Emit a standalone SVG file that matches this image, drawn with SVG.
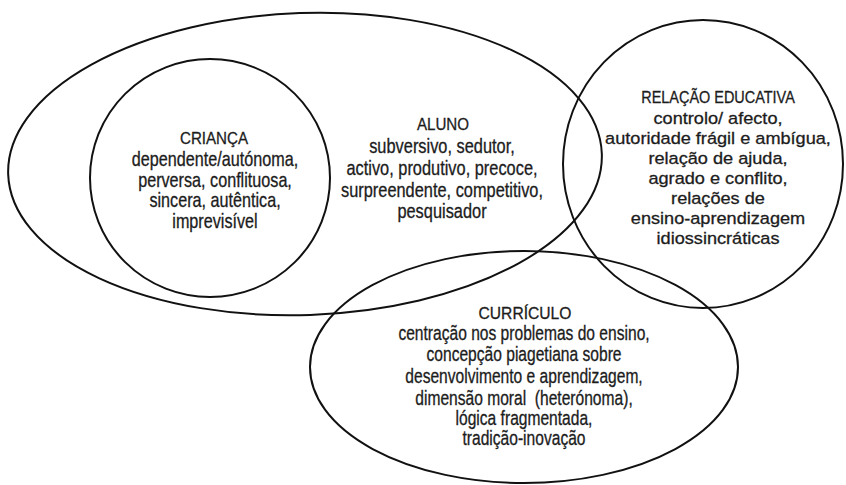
<svg xmlns="http://www.w3.org/2000/svg" width="846" height="485" viewBox="0 0 846 485">
<style>
.shape{fill:none;stroke:#111;stroke-width:2}
text{font-family:"Liberation Sans",Arial,sans-serif;fill:#1c1c1c;stroke:#1c1c1c;stroke-width:0.3;text-anchor:middle}
.h{font-size:17px}
.b{font-size:19.5px}
.r{font-size:16.5px}
</style>
<rect width="846" height="485" fill="#fff"/>
<g id="aluno">
<ellipse class="shape" cx="305" cy="164" rx="297" ry="151" transform="rotate(-2 305 164)"/>
<g transform="translate(443,0) scale(0.89,1)"><text class="h" x="0" y="130">ALUNO</text></g>
<g transform="translate(442,0) scale(0.84,1)">
<text class="b" x="0" y="153">subversivo, sedutor,</text>
<text class="b" x="0" y="175">activo, produtivo, precoce,</text>
<text class="b" x="0" y="197">surpreendente, competitivo,</text>
<text class="b" x="0" y="218">pesquisador</text>
</g>
</g>
<g id="crianca">
<ellipse class="shape" cx="210" cy="178" rx="120" ry="119"/>
<g transform="translate(214,0) scale(0.89,1)"><text class="h" x="0" y="144">CRIANÇA</text></g>
<g transform="translate(215,0) scale(0.83,1)">
<text class="b" x="0" y="166">dependente/autónoma,</text>
<text class="b" x="0" y="187">perversa, conflituosa,</text>
<text class="b" x="0" y="207">sincera, autêntica,</text>
<text class="b" x="0" y="228">imprevisível</text>
</g>
</g>
<g id="relacao">
<ellipse class="shape" cx="703" cy="164" rx="140" ry="144"/>
<g transform="translate(718,0) scale(0.85,1)"><text class="h" x="0" y="103">RELAÇÃO EDUCATIVA</text></g>
<g transform="translate(718,0) scale(1.1,1)">
<text class="r" x="0" y="124">controlo/ afecto,</text>
<text class="r" x="0" y="144">autoridade frágil e ambígua,</text>
<text class="r" x="0" y="164">relação de ajuda,</text>
<text class="r" x="0" y="184">agrado e conflito,</text>
<text class="r" x="0" y="204">relações de</text>
<text class="r" x="0" y="224">ensino-aprendizagem</text>
<text class="r" x="0" y="244">idiossincráticas</text>
</g>
</g>
<g id="curriculo">
<ellipse class="shape" cx="524" cy="367" rx="214" ry="116"/>
<g transform="translate(525,0) scale(0.92,1)"><text class="h" x="0" y="319">CURRÍCULO</text></g>
<g transform="translate(524,0) scale(0.8,1)">
<text class="b" x="0" y="340">centração nos problemas do ensino,</text>
<text class="b" x="0" y="361">concepção piagetiana sobre</text>
<text class="b" x="0" y="383">desenvolvimento e aprendizagem,</text>
<text class="b" x="0" y="405" xml:space="preserve">dimensão moral  (heterónoma),</text>
<text class="b" x="0" y="425">lógica fragmentada,</text>
<text class="b" x="0" y="445">tradição-inovação</text>
</g>
</g>
<g id="connectors"></g>
</svg>
